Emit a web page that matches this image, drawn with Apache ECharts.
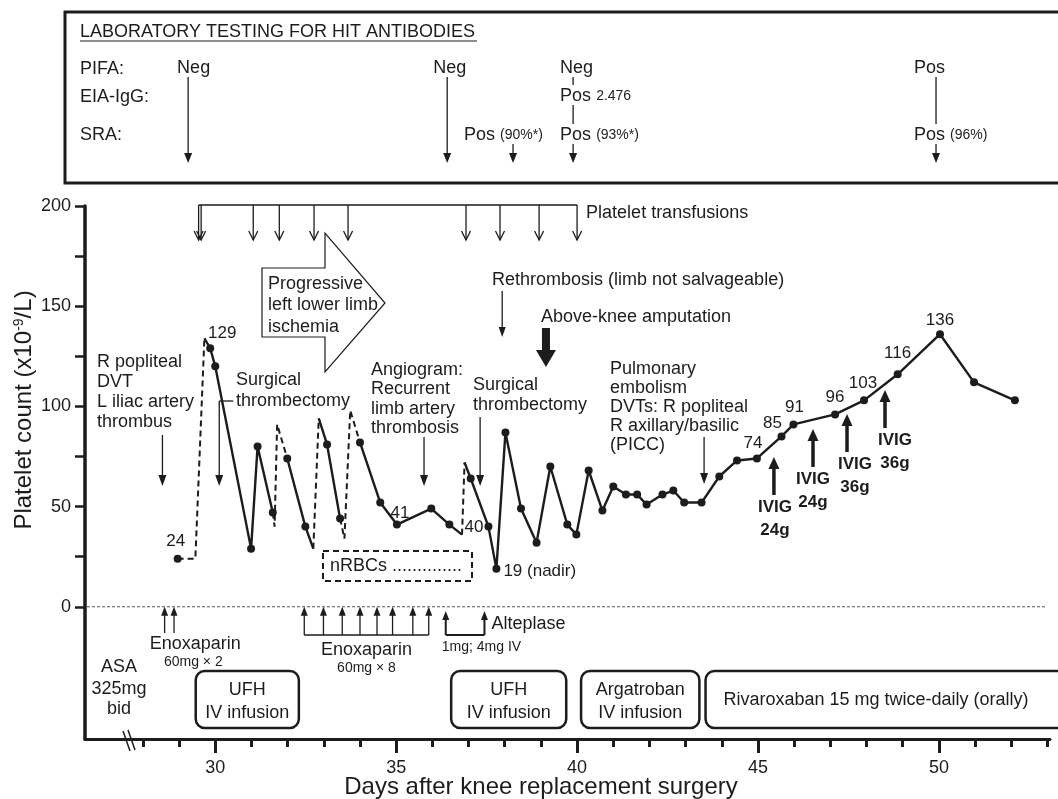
<!DOCTYPE html>
<html><head><meta charset="utf-8">
<script src="https://cdn.jsdelivr.net/npm/echarts@6/dist/echarts.min.js"></script>
<style>html,body{margin:0;padding:0;background:#fff}#c{width:1058px;height:799px}</style>
</head><body><div id="c"></div>
<script>
// ---------- DATA ----------
// Platelet course: day after surgery, count (x10^9/L)
const courseDays   = [28.96,29.45,29.70,29.86,30.00,30.99,31.17,31.59,31.64,31.71,31.99,32.49,32.71,32.86,33.09,33.45,33.57,33.73,34.00,34.56,35.02,35.97,36.47,36.82,36.89,37.06,37.55,37.77,38.02,38.45,38.88,39.26,39.73,39.98,40.32,40.70,41.00,41.35,41.66,41.92,42.36,42.66,42.96,43.44,43.93,44.42,44.97,45.65,45.98,47.13,47.93,48.86,50.03,50.97,52.10];
const courseCounts = [24,24,134,129,120,29,80,47,40,91,74,40,29,94,81,44,34,98,82,52,41,49,41,36,72,64,40,19,87,49,32,70,41,36,68,48,60,56,56,51,56,58,52,52,65,73,74,85,91,96,103,116,136,112,103];
// 1 = measured value (drawn as dot); 0 = estimated vertex around a transfusion
const courseMeasured = [1,0,0,1,1,1,1,1,0,0,1,1,0,0,1,1,0,0,1,1,1,1,1,0,0,1,1,1,1,1,1,1,1,1,1,1,1,1,1,1,1,1,1,1,1,1,1,1,1,1,1,1,1,1,1];
// segment i -> i+1 : 1 = dashed (transfusion effect), 0 = solid
const courseDashed = [1,1,0,0,0,0,0,1,1,1,0,0,1,0,0,1,1,1,0,0,0,0,0,1,0,0,0,0,0,0,0,0,0,0,0,0,0,0,0,0,0,0,0,0,0,0,0,0,0,0,0,0,0,0];
const courseLabels = ['24','','','129','','','','','','','','','','','','','','','','','41','','','','','','40','19 (nadir)','','','','','','','','','','','','','','','','','','','74','85','91','96','103','116','136','',''];

const yTicks = [0,25,50,75,100,125,150,175,200];
const yLabels = [0,50,100,150,200];
const xMinorTicks = [28,29,30,31,32,33,34,35,36,37,38,39,40,41,42,43,44,45,46,47,48,49,50,51,52,53];
const xLabels = [30,35,40,45,50];

const transfusionDays = [29.54,29.61,31.05,31.77,32.73,33.67,36.93,37.87,38.95,40.0];
const enox2Days = [28.60,28.86];
const enox8Days = [32.46,32.99,33.51,34.0,34.47,34.90,35.46,35.90];
const alteplaseDays = [36.37,37.44];
const ivigDays = [45.44,46.52,47.46,48.51];
const ivigDoses = ['24g','24g','36g','36g'];
const labDays = [29.25,36.41,38.23,39.89,49.92];
const labPIFA = ['Neg','Neg','','Neg','Pos'];
const labEIA  = ['','','','Pos 2.476',''];
const labSRA  = ['','','Pos (90%*)','Pos (93%*)','Pos (96%)'];
const therapyNames = [['UFH','IV infusion'],['UFH','IV infusion'],['Argatroban','IV infusion'],['Rivaroxaban 15 mg twice-daily (orally)']];
const therapyStart = [29.46,36.52,40.11,43.55];
const therapyEnd   = [32.31,39.70,43.38,54.0];
const eventDays = {popliteal:28.54, thromb1:30.11, angiogram:35.77, rethromb:37.93, amputation:39.14, thromb2:37.32, pe:43.51};

// ---------- CHART ----------
const INK = '#1c1c1c';
const FONT = '"Liberation Sans", Arial, Helvetica, sans-serif';
const chart = echarts.init(document.getElementById('c'));

const series = [];
let start = 0;
const nSeg = courseDashed.length;
for (let i = 1; i <= nSeg; i++) {
  if (i === nSeg || courseDashed[i] !== courseDashed[start]) {
    const pts = [];
    for (let k = start; k <= i; k++) pts.push([courseDays[k], courseCounts[k]]);
    const dashed = courseDashed[start] === 1;
    series.push({type:'line', data:pts, symbol:'none', silent:true, z:3,
      lineStyle:{color:INK, width: dashed ? 2 : 2.4, type: dashed ? [6,4] : 'solid', opacity:1}});
    start = i;
  }
}
const labelPlace = {'24':['top',[-2,0]],'129':['top',[12,3]],'41':['top',[3,6]],'40':['left',[4,1]],'19 (nadir)':['right',[-2,3]],
  '74':['top',[-4,2]],'85':['top',[-9,4]],'91':['top',[1,0]],'96':['top',[0,0]],'103':['top',[-1,0]],'116':['top',[0,-4]],'136':['top',[0,4]]};
const dots = [];
courseDays.forEach((d, i) => {
  if (!courseMeasured[i]) return;
  const item = {value:[d, courseCounts[i]]};
  const lb = courseLabels[i];
  if (lb) {
    const p = labelPlace[lb];
    item.label = {show:true, formatter:lb, position:p[0], offset:p[1], distance:5, fontSize:17, color:INK, fontFamily:FONT, opacity:1};
  }
  dots.push(item);
});
series.push({type:'scatter', data:dots, symbol:'circle', symbolSize:8, itemStyle:{color:INK, opacity:1}, silent:true, z:4, label:{show:false}});

const xCommon = {type:'value', min:26.4, max:53.07, splitLine:{show:false}};
chart.setOption({
  animation:false,
  backgroundColor:'#fff',
  grid:{left:85, right:8, top:206, bottom:60},
  xAxis:[
    Object.assign({}, xCommon, {
      position:'bottom',
      axisLine:{show:true, onZero:false, lineStyle:{color:INK, width:3}},
      axisTick:{show:true, customValues:xLabels, length:14, lineStyle:{color:INK, width:3}},
      axisLabel:{show:true, customValues:xLabels, fontSize:18, color:INK, fontFamily:FONT, margin:20}
    }),
    Object.assign({}, xCommon, {
      position:'bottom',
      axisLine:{show:false, onZero:false},
      axisTick:{show:true, customValues:xMinorTicks, length:8, lineStyle:{color:INK, width:3}},
      axisLabel:{show:false}
    })
  ],
  yAxis:{type:'value', min:-66, max:200, splitLine:{show:false},
    axisLine:{show:true, onZero:false, lineStyle:{color:INK, width:3.5}},
    axisTick:{show:true, customValues:yTicks, length:10, lineStyle:{color:INK, width:2.5}},
    axisLabel:{show:true, customValues:yLabels, fontSize:18, color:INK, fontFamily:FONT, margin:14}
  },
  series: series
});

// ---------- ANNOTATIONS ----------
const X = d => chart.convertToPixel({xAxisIndex:0}, d);
const Y = v => chart.convertToPixel({yAxisIndex:0}, v);
const els = [];
function L(x1,y1,x2,y2,w,dash,color){ els.push({type:'line', silent:true, z:10, shape:{x1,y1,x2,y2}, style:{stroke:color||INK, lineWidth:w||1.3, lineDash:dash||null}}); }
function T(x,y,str,o){ o=o||{}; els.push({type:'text', x, y, silent:true, z:10, style:{text:str, fill:INK, fontSize:o.size||18, fontFamily:FONT, fontWeight:o.weight||'normal', textAlign:o.align||'left', textVerticalAlign:'middle', rich:o.rich}}); }
function arrow(x,y1,y2,o){
  o=o||{}; const w=o.w||1.3, hw=o.hw||8, hh=o.hh||10; const dir = y2>y1?1:-1;
  if (o.open) {
    L(x,y1,x,y2,w);
    els.push({type:'polyline', silent:true, z:10, shape:{points:[[x-hw/2,y2-dir*hh],[x,y2],[x+hw/2,y2-dir*hh]]}, style:{stroke:INK, lineWidth:w, fill:null}});
  } else {
    L(x,y1,x,y2-dir*hh*0.7,w);
    els.push({type:'polygon', silent:true, z:10, shape:{points:[[x-hw/2,y2-dir*hh],[x+hw/2,y2-dir*hh],[x,y2]]}, style:{fill:INK}});
  }
}
function mixed(str){ const sp = str.indexOf(' '); return '{a|'+str.slice(0,sp)+'} {b|'+str.slice(sp+1)+'}'; }
const richMix = {a:{fontSize:18, fontFamily:FONT, fill:INK}, b:{fontSize:14, fontFamily:FONT, fill:INK}};

// top lab box
els.push({type:'rect', silent:true, z:10, shape:{x:65, y:12, width:1100, height:171}, style:{stroke:INK, lineWidth:3, fill:null}});
T(80,32,'LABORATORY TESTING FOR HIT ANTIBODIES');
L(80,41,477,41,1.2);
T(80,69,'PIFA:'); T(80,97,'EIA-IgG:'); T(80,135,'SRA:');
const labDx = [-11,-14,-49,-13,-22];
const rowY = [68,96,135];
labDays.forEach((d,i) => {
  const x = X(d);
  const cells = [labPIFA[i], labEIA[i], labSRA[i]];
  let last = -1;
  cells.forEach((c,r) => {
    if (!c) return;
    if (c.indexOf(' ') > 0) T(x+labDx[i], rowY[r], mixed(c), {rich:richMix});
    else T(x+labDx[i], rowY[r], c);
    if (last >= 0) L(x, rowY[last]+9, x, rowY[r]-11, 1.3);
    last = r;
  });
  arrow(x, rowY[last]+9, 163, {hw:8, hh:10});
});

// platelet transfusions
const ty = 205;
L(X(transfusionDays[0]), ty, X(transfusionDays[transfusionDays.length-1]), ty, 1.3);
transfusionDays.forEach(d => arrow(X(d), ty, 240, {open:true, hw:9, hh:9}));
T(X(transfusionDays[transfusionDays.length-1])+9, 213, 'Platelet transfusions');

// progressive ischemia big arrow
els.push({type:'polygon', silent:true, z:9, shape:{points:[[262,268],[325,268],[325,233],[385,303],[325,372],[325,337],[262,337]]}, style:{stroke:INK, lineWidth:1.2, fill:'#fff'}});
T(268,284,'Progressive'); T(268,305,'left lower limb'); T(268,327,'ischemia');

// event annotations
['R popliteal','DVT','L iliac artery','thrombus'].forEach((s,i)=>T(97,362+i*20,s));
arrow(X(eventDays.popliteal), 435, 486, {hw:8, hh:11});

T(236,380,'Surgical'); T(236,401,'thrombectomy');
const xs1 = X(eventDays.thromb1);
L(xs1,401,xs1+14,401,1.3);
arrow(xs1, 401, 486, {hw:8, hh:11});

['Angiogram:','Recurrent','limb artery','thrombosis'].forEach((s,i)=>T(371,370+i*19.5,s));
arrow(X(eventDays.angiogram), 437, 486, {hw:8, hh:11});

T(492,280,'Rethrombosis (limb not salvageable)');
arrow(X(eventDays.rethromb), 291, 337, {hw:7, hh:10});

T(541,317,'Above-knee amputation');
const xa = X(eventDays.amputation);
els.push({type:'polygon', silent:true, z:10, shape:{points:[[xa-4,328],[xa+4,328],[xa+4,350],[xa+10,350],[xa,367],[xa-10,350],[xa-4,350]]}, style:{fill:INK}});

T(473,385,'Surgical'); T(473,405,'thrombectomy');
arrow(X(eventDays.thromb2), 417, 486, {hw:8, hh:11});

['Pulmonary','embolism','DVTs: R popliteal','R axillary/basilic','(PICC)'].forEach((s,i)=>T(610,369+i*19,s));
arrow(X(eventDays.pe), 437, 484, {hw:8, hh:11});

// IVIG
const ivigBase = [495,467,452,428];
const ivigTextDx = [1,0,8,10];
ivigDays.forEach((d,i) => {
  const x = X(d);
  arrow(x, ivigBase[i], ivigBase[i]-38, {w:3.5, hw:11, hh:12});
  T(x+ivigTextDx[i], ivigBase[i]+12, 'IVIG', {weight:'bold', size:17, align:'center'});
  T(x+ivigTextDx[i], ivigBase[i]+35, ivigDoses[i], {weight:'bold', size:17, align:'center'});
});

// nRBCs dashed box
els.push({type:'rect', silent:true, z:10, shape:{x:323, y:551, width:149, height:30}, style:{stroke:INK, lineWidth:2, lineDash:[6,4], fill:null}});
T(330,566,'nRBCs ..............');

// zero line
const y0 = Y(0);
L(87, y0, 1045, y0, 1, [3,2], '#555');

// enoxaparin x2
enox2Days.forEach(d => arrow(X(d), 633, y0, {hw:7, hh:9}));
const e2c = (X(enox2Days[0])+X(enox2Days[1]))/2 + 26;
T(e2c, 644, 'Enoxaparin', {align:'center'});
T(e2c-2, 662, '60mg \u00d7 2', {align:'center', size:14});

// enoxaparin x8
enox8Days.forEach(d => arrow(X(d), 635, y0, {hw:7, hh:9}));
L(X(enox8Days[0]), 635, X(enox8Days[enox8Days.length-1]), 635, 1.5);
const e8c = (X(enox8Days[0])+X(enox8Days[enox8Days.length-1]))/2;
T(e8c, 650, 'Enoxaparin', {align:'center'});
T(e8c, 668, '60mg \u00d7 8', {align:'center', size:14});

// alteplase
alteplaseDays.forEach(d => arrow(X(d), 635, 611, {w:2, hw:7, hh:9}));
L(X(alteplaseDays[0]), 635, X(alteplaseDays[1]), 635, 2);
T(X(alteplaseDays[1])+7, 624, 'Alteplase');
T(X(alteplaseDays[0])-4, 647, '1mg; 4mg IV', {size:14});

// ASA
T(119,667,'ASA',{align:'center'}); T(119,689,'325mg',{align:'center'}); T(119,709,'bid',{align:'center'});

// therapy boxes
therapyNames.forEach((names,i) => {
  const x1 = X(therapyStart[i]), x2 = Math.min(X(therapyEnd[i]), 1070);
  els.push({type:'rect', silent:true, z:10, shape:{x:x1, y:671, width:x2-x1, height:57, r:9}, style:{stroke:INK, lineWidth:2.5, fill:null}});
  if (names.length === 2) {
    const c = (x1+x2)/2;
    T(c, 690, names[0], {align:'center'}); T(c, 713, names[1], {align:'center'});
  } else {
    T(876, 700, names[0], {align:'center'});
  }
});

// axis break
L(123,731,130,751,1.5); L(128,730,135,750,1.5);

// axis titles
els.push({type:'text', x:24, y:410, rotation:Math.PI/2, silent:true, z:10,
  style:{text:'{n|Platelet count (x10}{s|-9}{n|/L)}', textAlign:'center', textVerticalAlign:'middle',
    rich:{n:{fontSize:24, fontFamily:FONT, fill:INK}, s:{fontSize:14, fontFamily:FONT, fill:INK, verticalAlign:'top'}}}});
T(541, 787, 'Days after knee replacement surgery', {size:24, align:'center'});

chart.setOption({graphic:{elements:els}});
</script></body></html>
